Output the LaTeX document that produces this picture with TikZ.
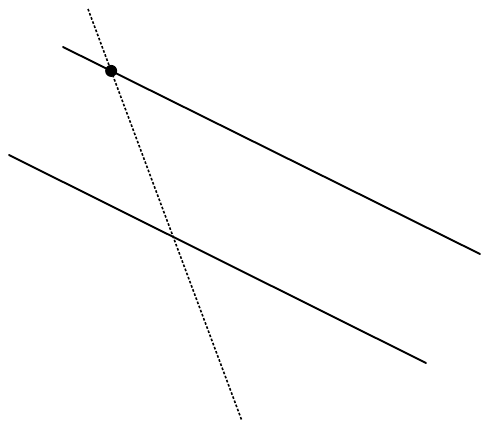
\documentclass[tikz,border=0pt]{standalone}
\usetikzlibrary{intersections}

\begin{document}
\begin{tikzpicture}[x=1pt, y=-1pt,
    solidline/.style={line width=1.9pt, line cap=round},
    dotline/.style={line width=1.6pt, dash pattern=on 2.6pt off 1.8pt}]
    \useasboundingbox (0,0) rectangle (481,423);
    % end points
    \coordinate (a1) at (63,47);
    \coordinate (a2) at (480,254);
    \coordinate (b1) at (9,155);
    \coordinate (b2) at (426,363);
    \coordinate (t1) at (88,9);
    \coordinate (t2) at (242,421);
    \draw[solidline, name path=upper] (a1) -- (a2);
    \draw[solidline] (b1) -- (b2);
    \draw[dotline, name path=cross] (t1) -- (t2);
    % point on the upper line
    \path[name intersections={of=upper and cross, by=p}];
    \node[circle, fill=black, inner sep=0pt, minimum size=12pt] (pt) at (p) {};
  \end{tikzpicture}
\end{document}
